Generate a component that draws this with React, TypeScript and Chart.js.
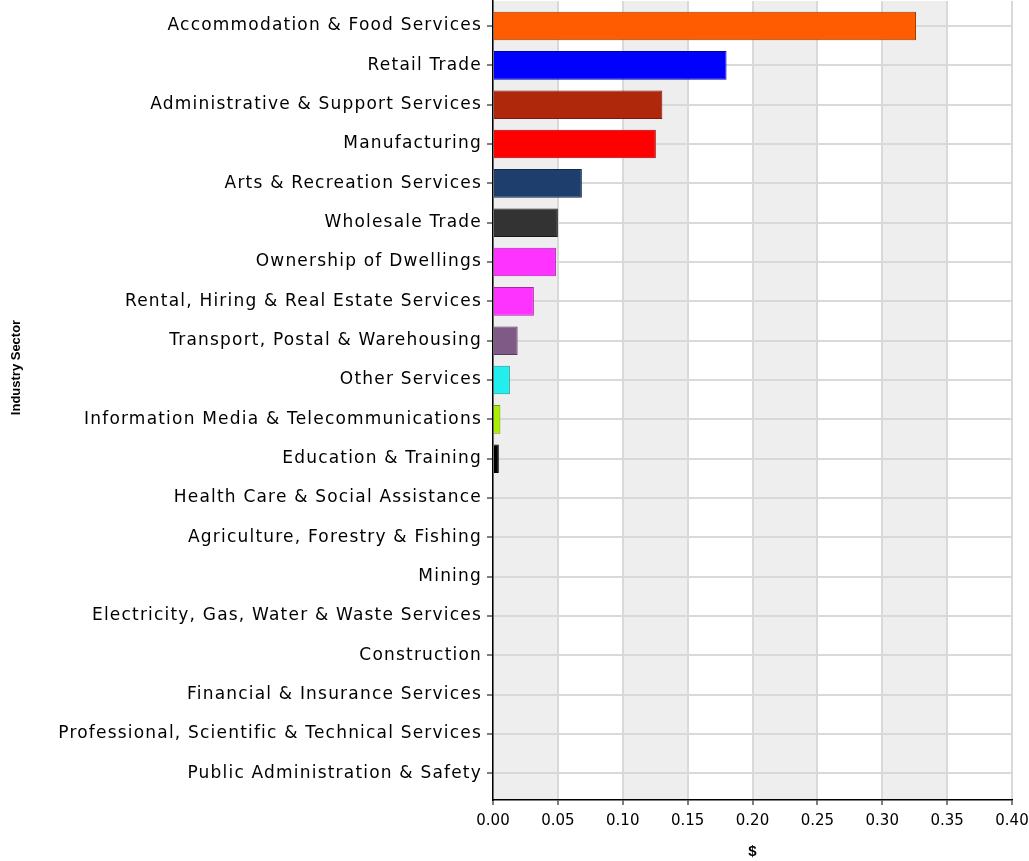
import React, { useEffect, useRef } from 'react';
import { Chart, registerables } from 'chart.js';

Chart.register(...registerables);

const categories = [
  'Accommodation & Food Services',
  'Retail Trade',
  'Administrative & Support Services',
  'Manufacturing',
  'Arts & Recreation Services',
  'Wholesale Trade',
  'Ownership of Dwellings',
  'Rental, Hiring & Real Estate Services',
  'Transport, Postal & Warehousing',
  'Other Services',
  'Information Media & Telecommunications',
  'Education & Training',
  'Health Care & Social Assistance',
  'Agriculture, Forestry & Fishing',
  'Mining',
  'Electricity, Gas, Water & Waste Services',
  'Construction',
  'Financial & Insurance Services',
  'Professional, Scientific & Technical Services',
  'Public Administration & Safety',
];

const values = [
  0.326, 0.18, 0.1305, 0.1255, 0.0685, 0.05, 0.0485, 0.0315, 0.019, 0.013,
  0.0057, 0.0045, 0, 0, 0, 0, 0, 0, 0, 0,
];

const fillColors = [
  '#ff5b00', '#0000ff', '#b0280c', '#ff0000', '#1e3f6e', '#333333', '#ff33ff',
  '#ff33ff', '#7f5a87', '#22eeee', '#aaee00', '#000000', '#888888', '#888888',
  '#888888', '#888888', '#888888', '#888888', '#888888', '#888888',
];

const borderColors = [
  '#a33a00', '#0000aa', '#7a1a08', '#aa0000', '#14284a', '#1a1a1a', '#aa22aa',
  '#aa22aa', '#553c5a', '#119999', '#70a000', '#000000', '#555555', '#555555',
  '#555555', '#555555', '#555555', '#555555', '#555555', '#555555',
];

const xMin = 0;
const xMax = 0.4;
const xStep = 0.05;
const bandStarts = [0, 0.1, 0.2, 0.3];

const xTitle = '$';
const yTitle = 'Industry Sector';

const bandsPlugin = {
  id: 'bands',
  beforeDraw(chart: any) {
    const { ctx, chartArea, scales } = chart;
    const xs = scales.x;
    ctx.save();
    ctx.fillStyle = '#eeeeee';
    bandStarts.forEach((s) => {
      const x0 = xs.getPixelForValue(s);
      const x1 = xs.getPixelForValue(s + xStep);
      ctx.fillRect(x0, chartArea.top, x1 - x0, chartArea.bottom - chartArea.top);
    });
    ctx.restore();

    const ys: any = scales.y;
    if (!ys.__patched) {
      ys.__patched = true;
      const origLabels = ys.drawLabels.bind(ys);
      ys.drawLabels = (area: any) => {
        const c = ys.ctx;
        c.save();
        c.letterSpacing = '1.2px';
        origLabels(area);
        c.restore();
      };
      const origTitle = ys.drawTitle.bind(ys);
      ys.drawTitle = () => {
        const c = ys.ctx;
        c.save();
        c.translate(0, -33);
        origTitle();
        c.restore();
      };
    }
  },
};

export default function App() {
  const ref = useRef<HTMLCanvasElement | null>(null);

  useEffect(() => {
    if (!ref.current) return;
    const chart = new Chart(ref.current, {
      type: 'bar',
      data: {
        datasets: [
          {
            data: values.map((v, i) => ({ x: v, y: i })),
            backgroundColor: fillColors,
            borderColor: borderColors,
            borderWidth: 1,
            barPercentage: 0.727,
            categoryPercentage: 1,
          },
        ],
      },
      options: {
        indexAxis: 'y',
        animation: false,
        responsive: false,
        devicePixelRatio: 1,
        layout: { padding: { left: 0, top: 1, right: 17, bottom: 0 } },
        plugins: {
          legend: { display: false },
          tooltip: { enabled: false },
        },
        scales: {
          x: {
            type: 'linear',
            position: 'bottom',
            min: xMin,
            max: xMax,
            offset: false,
            afterFit: (s: any) => {
              s.height = 61;
              s.paddingLeft = 0;
              s.paddingRight = 0;
            },
            ticks: {
              stepSize: xStep,
              padding: 7,
              color: '#000',
              font: { family: 'DejaVu Sans', size: 15 },
              callback: (v: any) => Number(v).toFixed(2),
            },
            grid: {
              offset: false,
              color: '#d9d9d9',
              lineWidth: 2,
              drawTicks: true,
              tickLength: 5,
              tickColor: '#000',
              tickWidth: 1,
            },
            border: { display: true, color: '#000', width: 1.5 },
            title: {
              display: true,
              text: xTitle,
              color: '#000',
              padding: { top: 0, bottom: 0 },
              font: { family: 'Liberation Sans', size: 15, weight: 'bold' },
            },
          },
          y: {
            type: 'linear',
            reverse: true,
            offset: false,
            min: -0.636,
            max: 19.678,
            afterFit: (s: any) => {
              s.width = 493;
              s.paddingTop = 0;
              s.paddingBottom = 0;
            },
            afterBuildTicks: (s: any) => {
              s.ticks = categories.map((_, i) => ({ value: i }));
            },
            ticks: {
              autoSkip: false,
              padding: 5,
              color: '#000',
              font: { family: 'DejaVu Sans', size: 17 },
              callback: (v: any) => categories[Math.round(Number(v))] ?? '',
            },
            grid: {
              offset: false,
              color: '#d9d9d9',
              lineWidth: 2,
              drawTicks: true,
              tickLength: 6,
              tickColor: '#000',
              tickWidth: 1,
            },
            border: { display: true, color: '#000', width: 1.5 },
            title: {
              display: true,
              text: yTitle,
              color: '#000',
              padding: { top: 9, bottom: 0 },
              font: { family: 'Liberation Sans', size: 13, weight: 'bold' },
            },
          },
        },
      } as any,
      plugins: [bandsPlugin],
    });
    return () => chart.destroy();
  }, []);

  return (
    <div style={{ position: 'absolute', left: 0, top: 0, width: 1029, height: 861, background: '#fff' }}>
      <canvas ref={ref} width={1029} height={861} style={{ display: 'block', width: 1029, height: 861 }} />
    </div>
  );
}
